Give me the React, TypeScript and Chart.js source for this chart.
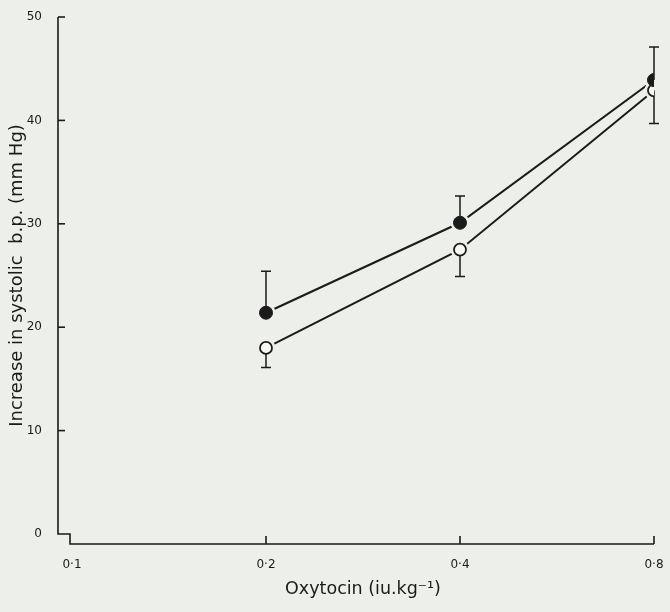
import React, { useEffect, useRef } from "react";
import { Chart, registerables } from "chart.js";

Chart.register(...registerables);

// Oxytocin dose (iu/kg) on a doubling (log) axis
const doses = [0.2, 0.4, 0.8];
const xTickValues = [0.1, 0.2, 0.4, 0.8];
const yTickValues = [0, 10, 20, 30, 40, 50];

// Filled circles: mean rise with upper SEM
const filledMeans = [21.4, 30.1, 43.9];
const filledUpper = [25.4, 32.7, 47.1];

// Open circles: mean rise with lower SEM
const openMeans = [18.0, 27.5, 42.9];
const openLower = [16.1, 24.9, 39.7];

const INK = "#1b1b1b";
const PAPER = "#edefea";
const FONT = "'DejaVu Sans', sans-serif";

const filledPts = doses.map((d, i) => ({ x: d, y: filledMeans[i] }));
const openPts = doses.map((d, i) => ({ x: d, y: openMeans[i] }));

const axesPlugin = {
  id: "paperAxes",
  beforeDraw(chart: any) {
    const { ctx, width, height } = chart;
    ctx.save();
    ctx.fillStyle = PAPER;
    ctx.fillRect(0, 0, width, height);
    ctx.restore();
  },
  beforeDatasetsDraw(chart: any) {
    const { ctx, chartArea, scales } = chart;
    const xs = scales.x;
    const ys = scales.y;
    const axisX = chartArea.left - 14;
    const jogX = chartArea.left - 2;
    const y0 = ys.getPixelForValue(0);
    const baseY = y0 + 10;
    ctx.save();
    ctx.strokeStyle = INK;
    ctx.lineWidth = 1.6;
    // stepped axis line: y axis down to zero, small jog, then x axis
    ctx.beginPath();
    ctx.moveTo(axisX, ys.getPixelForValue(50));
    ctx.lineTo(axisX, y0);
    ctx.lineTo(jogX, y0);
    ctx.lineTo(jogX, baseY);
    ctx.lineTo(xs.getPixelForValue(0.8), baseY);
    ctx.stroke();
    // y ticks (inward)
    yTickValues.forEach((v) => {
      if (v === 0) return;
      const py = ys.getPixelForValue(v);
      ctx.beginPath();
      ctx.moveTo(axisX, py);
      ctx.lineTo(axisX + 7, py);
      ctx.stroke();
    });
    // x ticks (inward)
    xTickValues.forEach((v) => {
      if (v === 0.1) return;
      const px = xs.getPixelForValue(v);
      ctx.beginPath();
      ctx.moveTo(px, baseY);
      ctx.lineTo(px, baseY - 8);
      ctx.stroke();
    });
    ctx.restore();
  },
  afterDatasetDraw(chart: any, args: any) {
    // error bars go on top of the paper halos, under the markers
    if (chart.data.datasets[args.index].label !== "halo") return;
    const { ctx, scales } = chart;
    const xs = scales.x;
    const ys = scales.y;
    const bar = (xv: number, from: number, to: number) => {
      const px = xs.getPixelForValue(xv);
      const p1 = ys.getPixelForValue(from);
      const p2 = ys.getPixelForValue(to);
      ctx.beginPath();
      ctx.moveTo(px, p1);
      ctx.lineTo(px, p2);
      ctx.moveTo(px - 5, p2);
      ctx.lineTo(px + 5, p2);
      ctx.stroke();
    };
    ctx.save();
    ctx.strokeStyle = INK;
    ctx.lineWidth = 1.5;
    doses.forEach((d, i) => {
      bar(d, filledMeans[i], filledUpper[i]);
      bar(d, openMeans[i], openLower[i]);
    });
    ctx.restore();
  },
};

export default function App() {
  const ref = useRef<HTMLCanvasElement | null>(null);

  useEffect(() => {
    if (!ref.current) return;
    const chart = new Chart(ref.current, {
      type: "line",
      data: {
        datasets: [
          {
            label: "filled",
            data: filledPts,
            order: 1,
            showLine: false,
            pointRadius: 6.5,
            pointBackgroundColor: INK,
            pointBorderColor: INK,
            pointBorderWidth: 1,
          },
          {
            label: "open",
            data: openPts,
            order: 2,
            showLine: false,
            pointRadius: 6,
            pointBackgroundColor: "#f7f8f4",
            pointBorderColor: INK,
            pointBorderWidth: 1.8,
          },
          {
            label: "halo",
            data: [...filledPts, ...openPts],
            order: 3,
            showLine: false,
            pointRadius: 9.5,
            pointBackgroundColor: PAPER,
            pointBorderWidth: 0,
          },
          {
            label: "filledLine",
            data: filledPts,
            order: 4,
            borderColor: INK,
            borderWidth: 2,
            pointRadius: 0,
            tension: 0,
          },
          {
            label: "openLine",
            data: openPts,
            order: 5,
            borderColor: INK,
            borderWidth: 2,
            pointRadius: 0,
            tension: 0,
          },
        ],
      },
      options: {
        animation: false,
        responsive: false,
        events: [],
        layout: { padding: { top: 17, right: 16, left: 0, bottom: 0 } },
        plugins: { legend: { display: false }, tooltip: { enabled: false } },
        scales: {
          x: {
            type: "logarithmic",
            min: 0.1,
            max: 0.8,
            afterBuildTicks: (s: any) => {
              s.ticks = xTickValues.map((v) => ({ value: v }));
            },
            afterFit: (s: any) => {
              s.height = 78;
              s.paddingLeft = 0;
              s.paddingRight = 0;
            },
            grid: { display: false },
            border: { display: false },
            ticks: {
              autoSkip: false,
              maxRotation: 0,
              padding: 16,
              color: INK,
              font: { family: FONT, size: 12 },
              callback: (v: any) => String(v).replace(".", "·"),
            },
            title: {
              display: true,
              text: "Oxytocin (iu.kg⁻¹)",
              color: INK,
              font: { family: FONT, size: 17.5 },
              padding: { top: 0, bottom: 12 },
            },
          },
          y: {
            type: "linear",
            min: 0,
            max: 50,
            afterBuildTicks: (s: any) => {
              s.ticks = yTickValues.map((v) => ({ value: v }));
            },
            afterFit: (s: any) => {
              s.width = 72;
              s.paddingTop = 0;
              s.paddingBottom = 0;
            },
            grid: { display: false },
            border: { display: false },
            ticks: {
              padding: 22,
              color: INK,
              font: { family: FONT, size: 12 },
            },
            title: {
              display: true,
              text: "Increase in systolic  b.p. (mm Hg)",
              color: INK,
              font: { family: FONT, size: 18 },
              padding: { top: 7, bottom: 0 },
            },
          },
        },
      },
      plugins: [axesPlugin],
    });
    return () => chart.destroy();
  }, []);

  return (
    <div
      style={{
        position: "fixed",
        left: 0,
        top: 0,
        width: 670,
        height: 612,
        background: PAPER,
      }}
    >
      <canvas ref={ref} width={670} height={612} />
    </div>
  );
}
